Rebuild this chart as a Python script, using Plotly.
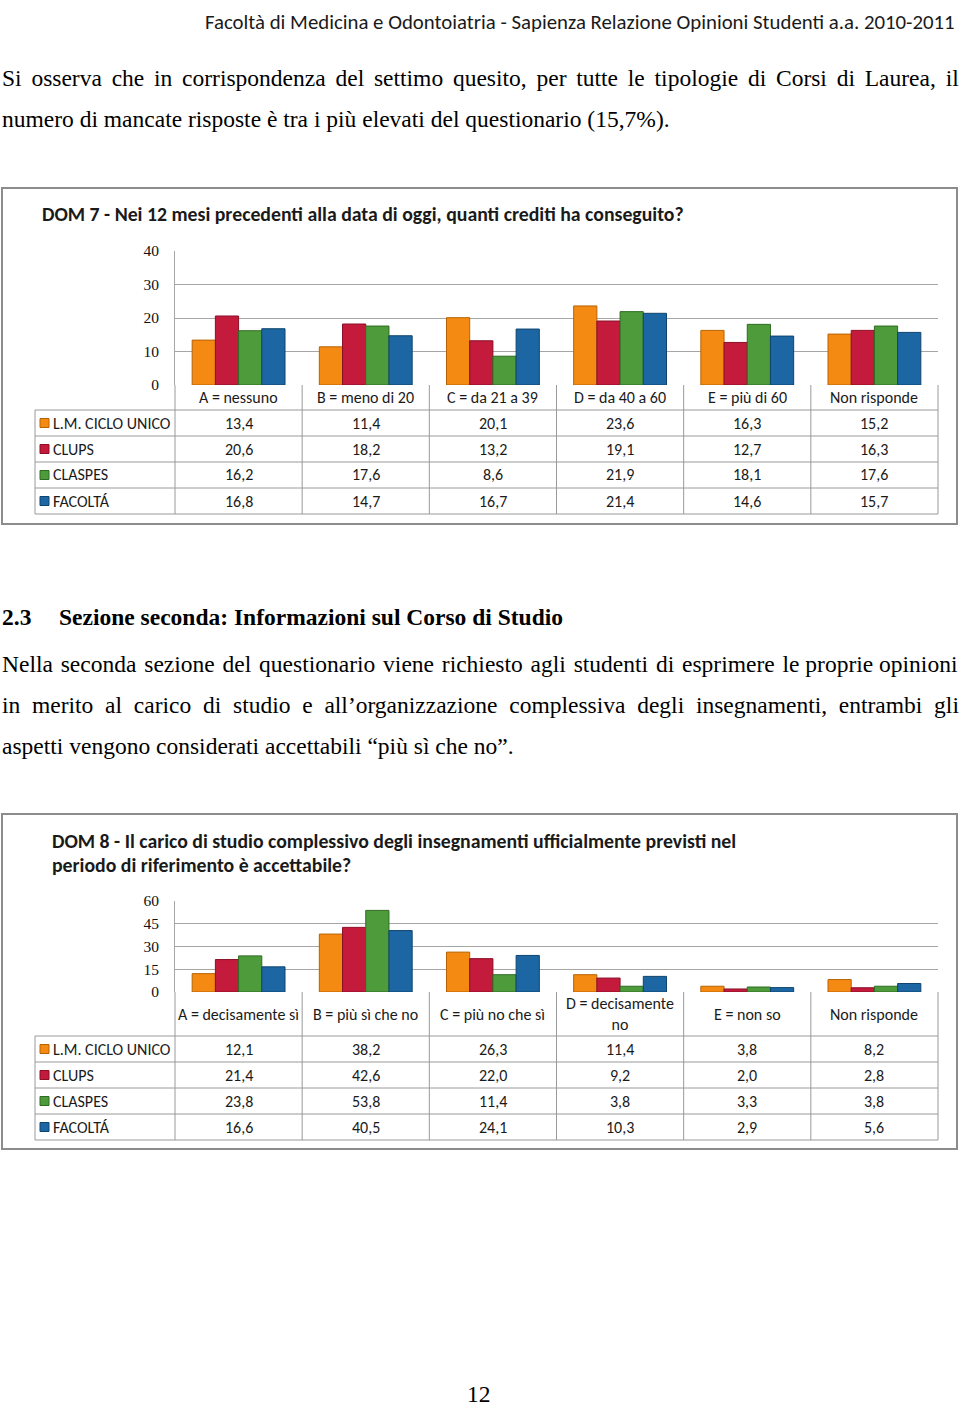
import plotly.graph_objects as go

W, H = 960, 1415

series_names = ["L.M. CICLO UNICO", "CLUPS", "CLASPES", "FACOLTÁ"]
series_colors = ["#F58A12", "#C41A3C", "#4E9B3B", "#1C67A3"]
series_edges = ["#B86205", "#8A0F27", "#2F6B22", "#0F446E"]

# DOM 7
cats7 = ["A = nessuno", "B = meno di 20", "C = da 21 a 39", "D = da 40 a 60", "E = più di 60", "Non risponde"]
lm7 = [13.4, 11.4, 20.1, 23.6, 16.3, 15.2]
clups7 = [20.6, 18.2, 13.2, 19.1, 12.7, 16.3]
claspes7 = [16.2, 17.6, 8.6, 21.9, 18.1, 17.6]
fac7 = [16.8, 14.7, 16.7, 21.4, 14.6, 15.7]

# DOM 8
cats8 = ["A = decisamente sì", "B = più sì che no", "C = più no che sì", "D = decisamente<br>no", "E = non so", "Non risponde"]
lm8 = [12.1, 38.2, 26.3, 11.4, 3.8, 8.2]
clups8 = [21.4, 42.6, 22.0, 9.2, 2.0, 2.8]
claspes8 = [23.8, 53.8, 11.4, 3.8, 3.3, 3.8]
fac8 = [16.6, 40.5, 24.1, 10.3, 2.9, 5.6]

y7_ticks = [0, 10, 20, 30, 40]
y8_ticks = [0, 15, 30, 45, 60]

# the photographed page shows the figure between y=9 and y=1407
TOP_OFF, VIS_H = 9.0, 1398.0


def px(x):
    return x / W


def py(y):
    return 1 - (y - TOP_OFF) / VIS_H


def justify(line, extra, n=None):
    words = line.split(" ")
    gaps = len(words) - 1
    if n is None:
        n = gaps
    out = words[0]
    for i, w in enumerate(words[1:]):
        out += (extra if i < n else "") + " " + w
    return out


fig = go.Figure()

SANS = "Carlito, Lato, sans-serif"
SERIF = "Liberation Serif, Times New Roman, serif"
GRID = "#a6a6a6"
TLINE = "#9a9a9a"
TFS = 16

charts = [
    dict(cats=cats7, data=[lm7, clups7, claspes7, fac7], xa="x", ya="y", ticks=y7_ticks,
         ytop=251, ybot=385, hdr_bot=410, rows=[410, 436, 462, 488, 514], box=(2, 188, 957, 524)),
    dict(cats=cats8, data=[lm8, clups8, claspes8, fac8], xa="x2", ya="y2", ticks=y8_ticks,
         ytop=901, ybot=992, hdr_bot=1036, rows=[1036, 1062, 1088, 1114, 1140], box=(2, 814, 957, 1149)),
]

XL, XR, TL = 175, 938, 35
shapes = []
annotations = []

for ci, ch in enumerate(charts):
    for si in range(4):
        fig.add_trace(go.Bar(
            x=ch["cats"], y=ch["data"][si], name=series_names[si],
            marker=dict(color=series_colors[si], line=dict(color=series_edges[si], width=1)),
            xaxis=ch["xa"], yaxis=ch["ya"], showlegend=False,
        ))
    x0, y0, x1, y1 = ch["box"]
    shapes.append(dict(type="rect", xref="paper", yref="paper", x0=px(x0), x1=px(x1), y0=py(y0), y1=py(y1),
                       line=dict(color="#8c8c8c", width=2), fillcolor="rgba(0,0,0,0)", layer="below"))
    colw = (XR - XL) / 6
    for k in range(7):
        xx = XL + k * colw
        shapes.append(dict(type="line", xref="paper", yref="paper", x0=px(xx), x1=px(xx),
                           y0=py(ch["ybot"]), y1=py(ch["rows"][-1]), line=dict(color=TLINE, width=1)))
    shapes.append(dict(type="line", xref="paper", yref="paper", x0=px(TL), x1=px(TL),
                       y0=py(ch["rows"][0]), y1=py(ch["rows"][-1]), line=dict(color=TLINE, width=1)))
    for r in ch["rows"]:
        shapes.append(dict(type="line", xref="paper", yref="paper", x0=px(TL), x1=px(XR),
                           y0=py(r), y1=py(r), line=dict(color=TLINE, width=1)))
    hy = (ch["ybot"] + ch["hdr_bot"]) / 2
    for c in ch["cats"]:
        annotations.append(dict(x=c, xref=ch["xa"], y=py(hy), yref="paper", text=c, showarrow=False,
                                xanchor="center", yanchor="middle",
                                font=dict(family=SANS, size=TFS, color="#1a1a1a")))
    for si in range(4):
        r0, r1 = ch["rows"][si], ch["rows"][si + 1]
        ry = (r0 + r1) / 2
        shapes.append(dict(type="rect", xref="paper", yref="paper", x0=px(40), x1=px(49),
                           y0=py(ry + 4.5), y1=py(ry - 4.5),
                           fillcolor=series_colors[si], line=dict(color=series_edges[si], width=1)))
        annotations.append(dict(x=px(51), xref="paper", y=py(ry), yref="paper", text=series_names[si],
                                showarrow=False, xanchor="left", yanchor="middle",
                                font=dict(family=SANS, size=TFS, color="#1a1a1a")))
        for c, v in zip(ch["cats"], ch["data"][si]):
            annotations.append(dict(x=c, xref=ch["xa"], y=py(ry), yref="paper",
                                    text=f"{v:.1f}".replace(".", ","), showarrow=False,
                                    xanchor="center", yanchor="middle",
                                    font=dict(family=SANS, size=TFS, color="#1a1a1a")))

axis_common = dict(showticklabels=False, showgrid=False, zeroline=False, showline=False,
                   range=[-0.5, 5.5], domain=[px(XL), px(XR)], fixedrange=True)
yax_common = dict(showgrid=True, gridcolor=GRID, gridwidth=1, zeroline=False, showline=True,
                  linecolor=GRID, linewidth=1, ticks="", ticklabelstandoff=12,
                  tickfont=dict(family=SERIF, size=15.5, color="#111111"))

fig.update_layout(
    width=W, height=H, margin=dict(l=0, r=0, t=0, b=0),
    paper_bgcolor="white", plot_bgcolor="white",
    barmode="group", bargap=0.27, bargroupgap=0.0,
    xaxis=dict(**axis_common, anchor="y"),
    yaxis=dict(**yax_common, range=[0, 40], tickvals=y7_ticks, domain=[py(385), py(251)], anchor="x"),
    xaxis2=dict(**axis_common, anchor="y2"),
    yaxis2=dict(**yax_common, range=[0, 60], tickvals=y8_ticks, domain=[py(992), py(901)], anchor="x2"),
    shapes=shapes,
)

SIX = "\u2006"
HAIR = "\u200a"
FOUR = "\u2005"

TXT = dict(family=SERIF, size=23.5, color="black")
TITLE = dict(family=SANS, size=19.8, color="#1a1a1a")
texts = [
    dict(x=0, y=78, text=justify("Si osserva che in corrispondenza del settimo quesito, per tutte le tipologie di Corsi di Laurea, il", SIX),
         xanchor="left", font=TXT),
    dict(x=0, y=119, text="numero di mancate risposte è tra i più elevati del questionario (15,7%).",
         xanchor="left", font=TXT),
    dict(x=40, y=214, text="<b>DOM 7 - Nei 12 mesi precedenti alla data di oggi, quanti crediti ha conseguito?</b>",
         xanchor="left", font=TITLE),
    dict(x=0, y=617, text="<b>2.3</b>", xanchor="left", font=TXT),
    dict(x=57, y=617, text="<b>Sezione seconda: Informazioni sul Corso di Studio</b>", xanchor="left", font=TXT),
    dict(x=0, y=664, text=justify("Nella seconda sezione del questionario viene richiesto agli studenti di esprimere le proprie opinioni", HAIR, 11),
         xanchor="left", font=TXT),
    dict(x=0, y=705, text=justify("in merito al carico di studio e all’organizzazione complessiva degli insegnamenti, entrambi gli", FOUR),
         xanchor="left", font=TXT),
    dict(x=0, y=746, text="aspetti vengono considerati accettabili “più sì che no”.", xanchor="left", font=TXT),
    dict(x=50, y=841, text="<b>DOM 8 - Il carico di studio complessivo degli insegnamenti ufficialmente previsti nel</b>",
         xanchor="left", font=TITLE),
    dict(x=50, y=865, text="<b>periodo di riferimento è accettabile?</b>",
         xanchor="left", font=TITLE),
]
for t in texts:
    annotations.append(dict(x=px(t["x"]), xref="paper", y=py(t["y"]), yref="paper", text=t["text"],
                            showarrow=False, xanchor=t["xanchor"], yanchor="middle", font=t["font"]))

# running header at the very top of the page
annotations.append(dict(x=px(957), xref="paper", y=1, yref="paper",
                        text="Facoltà di Medicina e Odontoiatria - Sapienza Relazione Opinioni Studenti a.a. 2010-2011",
                        showarrow=False, xanchor="right", yanchor="top", height=22, valign="middle",
                        font=dict(family=SANS, size=20.8, color="#1a1a1a")))
# page number at the bottom
annotations.append(dict(x=px(479), xref="paper", y=0, yref="paper", text="12",
                        showarrow=False, xanchor="center", yanchor="bottom", height=22, valign="middle",
                        font=TXT))

fig.update_layout(annotations=annotations)

post = (
    "document.body.style.margin='0px';"
    "document.documentElement.style.overflow='hidden';"
    "document.body.style.overflow='hidden';"
    "var gd=document.getElementById('{plot_id}');"
    "gd.style.position='absolute';gd.style.top='0px';gd.style.left='0px';"
)
fig.write_html("out.html", post_script=post, config={"displayModeBar": False})
